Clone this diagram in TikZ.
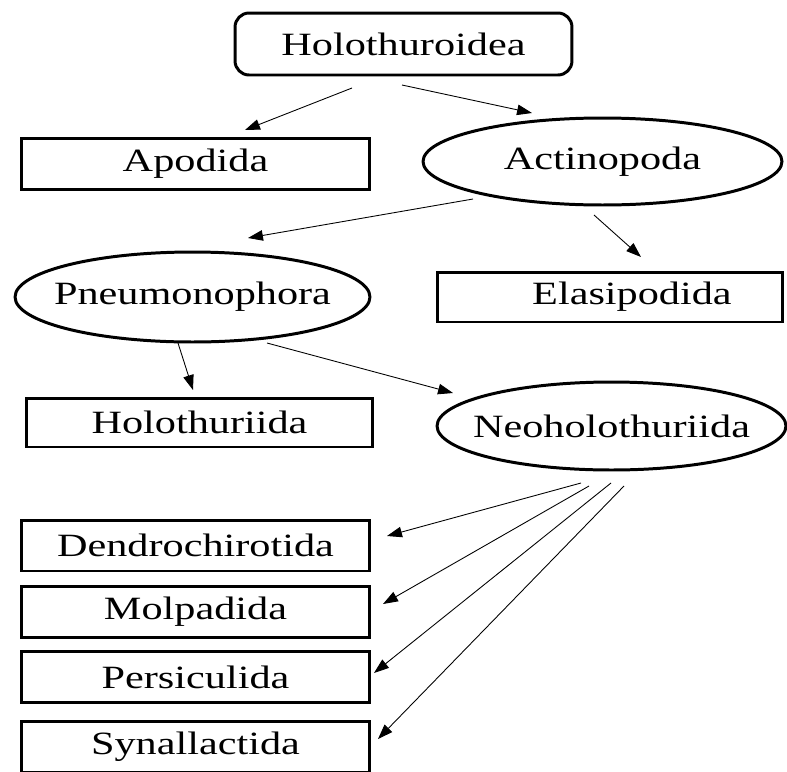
\documentclass[tikz,border=0pt]{standalone}
\usepackage{fontspec}
\setmainfont{Liberation Serif}[FakeStretch=1.3]
\usetikzlibrary{arrows.meta,shapes.geometric}
\begin{document}
\begin{tikzpicture}[x=0.02cm,y=-0.02cm,
  every node/.style={font=\fontsize{18.5pt}{22pt}\selectfont, inner sep=0pt},
  rbox/.style={draw, line width=1.7pt, minimum width=6.98cm, minimum height=1.02cm},
  topbox/.style={draw, line width=1.7pt, rounded corners=8pt, minimum width=6.74cm, minimum height=1.24cm},
  oval/.style={draw, ellipse, line width=1.7pt},
  conn/.style={-{Triangle[length=8.5pt,width=6pt]}, line width=0.5pt}]
\useasboundingbox (0,0) rectangle (787,771);

% nodes
\node[topbox] (holo) at (403.5,44) {Holothuroidea};
\node[rbox] (apod) at (195.5,164) {Apodida};
\node[oval, minimum width=7.18cm, minimum height=1.74cm] (acti) at (602.5,161.5) {\makebox[0pt]{Actinopoda}};
\node[oval, minimum width=7.1cm, minimum height=1.8cm] (pneu) at (192.5,297) {\makebox[0pt]{Pneumonophora}};
\node[rbox, minimum width=6.92cm, minimum height=1.0cm] (elas) at (610,297) {\hspace*{25pt}Elasipodida};
\node[rbox, minimum width=6.94cm, minimum height=0.98cm] (holi) at (199.5,422.5) {Holothuriida};
\node[oval, minimum width=6.98cm, minimum height=1.76cm] (neo) at (611.5,426) {\makebox[0pt]{Neoholothuriida}};
\node[rbox] (dend) at (195.5,545.5) {Dendrochirotida};
\node[rbox] (molp) at (195.5,611.5) {Molpadida};
\node[rbox] (pers) at (195.5,677) {Persiculida};
\node[rbox] (syna) at (195.5,747) {Synallactida};

% connector end points
\coordinate (h1s) at (352,88);  \coordinate (h1e) at (245,130);
\coordinate (h2s) at (402,85);  \coordinate (h2e) at (532,113);
\coordinate (a1s) at (473,199); \coordinate (a1e) at (248,238);
\coordinate (a2s) at (594,215); \coordinate (a2e) at (641,257);
\coordinate (p1s) at (178,343); \coordinate (p1e) at (193,390);
\coordinate (p2s) at (267,343); \coordinate (p2e) at (453,393);
\coordinate (n1s) at (581,483); \coordinate (n1e) at (387,536);
\coordinate (n2s) at (589,486); \coordinate (n2e) at (383,604);
\coordinate (n3s) at (611,483); \coordinate (n3e) at (374,673);
\coordinate (n4s) at (624,486); \coordinate (n4e) at (378,739);

% connectors
\draw[conn] (h1s) -- (h1e);
\draw[conn] (h2s) -- (h2e);
\draw[conn] (a1s) -- (a1e);
\draw[conn] (a2s) -- (a2e);
\draw[conn] (p1s) -- (p1e);
\draw[conn] (p2s) -- (p2e);
\draw[conn] (n1s) -- (n1e);
\draw[conn] (n2s) -- (n2e);
\draw[conn] (n3s) -- (n3e);
\draw[conn] (n4s) -- (n4e);
\end{tikzpicture}
\end{document}
